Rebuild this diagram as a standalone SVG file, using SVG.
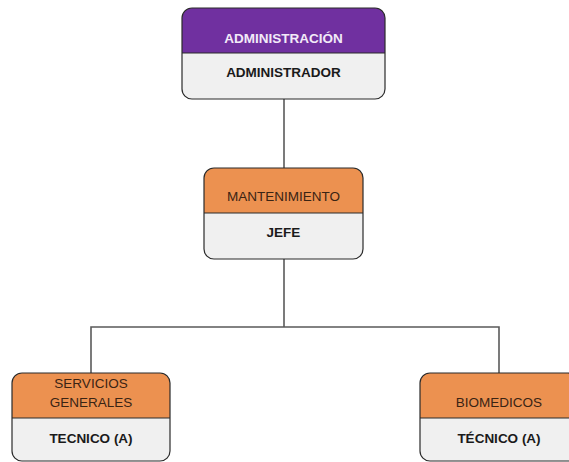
<svg xmlns="http://www.w3.org/2000/svg" width="569" height="462" viewBox="0 0 569 462">
<style>
.body{fill:#f0f0f0;}
.outline{fill:none;stroke:#2b2b2b;stroke-width:1.2;}
.purple{fill:#7030a0;}
.orange{fill:#ec9150;}
.div{stroke:#2b2b2b;stroke-width:1;}
.conn{fill:none;stroke:#5a5a5a;stroke-width:1.6;}
.t{font-family:"Liberation Sans",Arial,sans-serif;font-size:13.5px;text-anchor:middle;dominant-baseline:central;}
.b{font-weight:bold;fill:#1a1a1a;}
.w{font-weight:bold;fill:#f2eaf8;}
.o{fill:#3a2414;}
</style>
<rect width="569" height="462" fill="#ffffff"/>
<g id="connectors">
<line class="conn" x1="284" y1="99" x2="284" y2="168"/>
<line class="conn" x1="284" y1="259" x2="284" y2="327"/>
<polyline class="conn" points="91,373 91,327 499,327 499,373"/>
</g>
<g id="administracion">
<rect class="body" x="182" y="8" width="203" height="91" rx="10"/>
<path class="purple" d="M182,53 V18 A10,10 0 0 1 192,8 H375 A10,10 0 0 1 385,18 V53 Z"/>
<line class="div" x1="182" y1="53" x2="385" y2="53"/>
<rect class="outline" x="182" y="8" width="203" height="91" rx="10"/>
<text class="t w" x="283.5" y="38">ADMINISTRACIÓN</text>
<text class="t b" x="283.5" y="72">ADMINISTRADOR</text>
</g>
<g id="mantenimiento">
<rect class="body" x="204" y="168" width="159" height="91" rx="10"/>
<path class="orange" d="M204,213 V178 A10,10 0 0 1 214,168 H353 A10,10 0 0 1 363,178 V213 Z"/>
<line class="div" x1="204" y1="213" x2="363" y2="213"/>
<rect class="outline" x="204" y="168" width="159" height="91" rx="10"/>
<text class="t o" x="283.5" y="196">MANTENIMIENTO</text>
<text class="t b" x="283.5" y="232">JEFE</text>
</g>
<g id="servicios">
<rect class="body" x="12" y="373" width="158" height="88" rx="10"/>
<path class="orange" d="M12,418 V383 A10,10 0 0 1 22,373 H160 A10,10 0 0 1 170,383 V418 Z"/>
<line class="div" x1="12" y1="418" x2="170" y2="418"/>
<rect class="outline" x="12" y="373" width="158" height="88" rx="10"/>
<text class="t o" x="91" y="383">SERVICIOS</text>
<text class="t o" x="91" y="402">GENERALES</text>
<text class="t b" x="91" y="438">TECNICO (A)</text>
</g>
<g id="biomedicos">
<rect class="body" x="420" y="373" width="158" height="88" rx="10"/>
<path class="orange" d="M420,418 V383 A10,10 0 0 1 430,373 H568 A10,10 0 0 1 578,383 V418 Z"/>
<line class="div" x1="420" y1="418" x2="578" y2="418"/>
<rect class="outline" x="420" y="373" width="158" height="88" rx="10"/>
<text class="t o" x="499" y="402">BIOMEDICOS</text>
<text class="t b" x="499" y="438">TÉCNICO (A)</text>
</g>
</svg>
